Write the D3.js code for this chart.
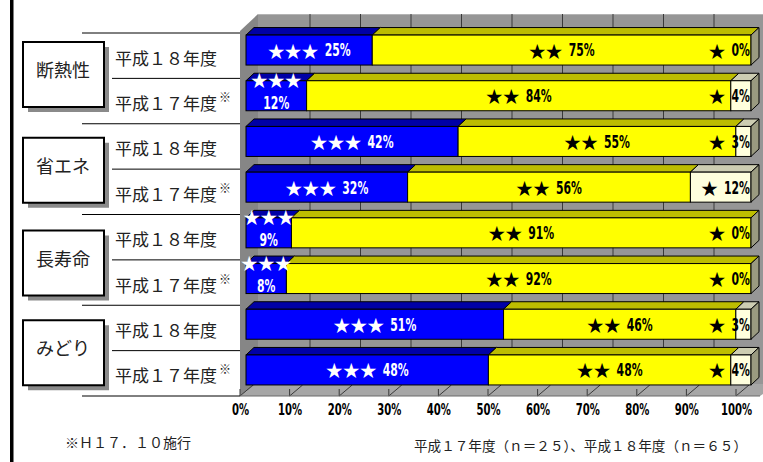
<!DOCTYPE html>
<html><head><meta charset="utf-8">
<script src="https://cdn.jsdelivr.net/npm/d3@7"></script>
<style>html,body{margin:0;padding:0;background:#fff;}svg{display:block;}</style>
</head><body>
<script>
// ---- data ----
const categories = ["断熱性", "省エネ", "長寿命", "みどり"];
const years = ["平成１８年度", "平成１７年度"];
const yearNote = [false, true];          // ※ on 平成１７年度
const rows = d3.range(8);                // category x year
const threeStar = [25, 12, 42, 32, 9, 8, 51, 48];
const twoStar   = [75, 84, 55, 56, 91, 92, 46, 48];
const oneStar   = [0, 4, 3, 12, 0, 0, 3, 4];
const tickValues = [0, 10, 20, 30, 40, 50, 60, 70, 80, 90, 100];
const footnote = "※Ｈ１７．１０施行";
const sampleNote = "平成１７年度（ｎ＝２５）、平成１８年度（ｎ＝６５）";

// ---- layout ----
const W = 763, H = 462;
const svg = d3.select("body").append("svg").attr("width", W).attr("height", H);
const xBar = d3.scaleLinear().domain([0, 100]).range([246, 751]);
const xBack = d3.scaleLinear().domain([0, 100]).range([259.5, 764.5]);
const xFloor = d3.scaleLinear().domain([0, 100]).range([240, 736]);
const yBand = d3.scaleBand().domain(rows).range([27.2, 392.8]).paddingInner(0.3435).paddingOuter(0.17175);
const yLine = d3.scaleLinear().domain([0, 8]).range([33, 396]);
const DX = 8, DY = 7.5;
const pctFont = "'Liberation Sans Narrow','Arial Narrow','DejaVu Sans Condensed',sans-serif";
const jpFont = "'Noto Sans CJK JP','Noto Sans CJK SC',sans-serif";
const PCT_SX = 0.67;

// left thick rule
svg.append("rect").attr("x", 10).attr("y", 0).attr("width", 3.5).attr("height", H).attr("fill", "#000");

// ---- 3D walls ----
const poly = pts => pts.map(p => p.join(",")).join(" ");
svg.append("rect").attr("x", 258).attr("y", 14).attr("width", 520).attr("height", 370).attr("fill", "#969696");
svg.append("line").attr("x1", 258).attr("x2", W).attr("y1", 14.5).attr("y2", 14.5).attr("stroke", "#b4b4b4");
svg.append("polygon").attr("points", poly([[240, 31], [258, 14], [258, 384], [240, 396]]))
  .attr("fill", "#868686");
svg.append("polygon").attr("points", poly([[240, 396], [256, 384], [778, 384], [760, 396]]))
  .attr("fill", "#a6a6a6");
// back gridlines
svg.append("g").selectAll("line").data(tickValues.filter(v => v > 0)).join("line")
  .attr("x1", d => xBack(d)).attr("x2", d => xBack(d)).attr("y1", 14).attr("y2", 384)
  .attr("stroke", "#3a3a3a").attr("stroke-width", 1);
// floor ticks
const ft = svg.append("g").attr("stroke", "#3a3a3a").attr("fill", "none");
ft.selectAll("path").data(tickValues).join("path")
  .attr("d", d => `M${xFloor(d)},389V396L${xFloor(d) + 13},385`);
svg.append("line").attr("x1", 240).attr("x2", 760).attr("y1", 396).attr("y2", 396).attr("stroke", "#6a6a6a");

// ---- bars ----
const segStyles = [
  { front: "#0000FF", top: "#0000A6" },
  { front: "#FFFF00", top: "#BDBD00" },
  { front: "#FFFFDD", top: "#CDCDB2" }
];
const gBars = svg.append("g");
rows.forEach(i => {
  const vals = [threeStar[i], twoStar[i], oneStar[i]];
  let acc = 0;
  const y0 = yBand(i), h = yBand.bandwidth();
  const g = gBars.append("g");
  vals.forEach((v, k) => {
    const a = acc, b = acc + v; acc = b;
    if (v <= 0) return;
    const x0 = xBar(a), x1 = xBar(b);
    g.append("polygon").attr("points", poly([[x0, y0], [x0 + DX, y0 - DY], [x1 + DX, y0 - DY], [x1, y0]]))
      .attr("fill", segStyles[k].top).attr("stroke", "#000").attr("stroke-width", 1).attr("stroke-linejoin", "round");
    g.append("rect").attr("x", x0).attr("y", y0).attr("width", x1 - x0).attr("height", h)
      .attr("fill", segStyles[k].front).attr("stroke", "#000").attr("stroke-width", 1);
  });
  const xe = xBar(100);
  g.append("polygon").attr("points", poly([[xe, y0], [xe + DX, y0 - DY], [xe + DX, y0 + h - DY], [xe, y0 + h]]))
    .attr("fill", "#9a9a80").attr("stroke", "#000").attr("stroke-width", 1);
});

// ---- bar labels ----
const gLab = svg.append("g");
function label(x, y, stars, pct, color, anchor) {
  const g = gLab.append("g");
  let w = 0, sw = 0, pw = 0;
  let st, pt;
  if (stars) {
    st = g.append("text").attr("dominant-baseline", "central").attr("font-family", jpFont)
      .attr("font-size", 17).attr("fill", color).text(stars);
    sw = st.node().getComputedTextLength();
  }
  if (pct) {
    pt = g.append("text").attr("dominant-baseline", "central").attr("font-family", pctFont)
      .attr("font-weight", "bold").attr("font-size", 18).attr("fill", color).text(pct);
    pw = pt.node().getComputedTextLength() * PCT_SX;
  }
  const gap = (stars && pct) ? 6 : 0;
  w = sw + gap + pw;
  const left = anchor === "end" ? x - w : x - w / 2;
  if (st) st.attr("x", left).attr("y", y);
  if (pt) pt.attr("transform", `translate(${left + sw + gap},${y + 0.5}) scale(${PCT_SX},1)`);
}
rows.forEach(i => {
  const y0 = yBand(i), h = yBand.bandwidth(), mid = y0 + h / 2;
  const a = threeStar[i], b = twoStar[i], c = oneStar[i];
  const cx1 = (xBar(0) + xBar(a)) / 2;
  if (a >= 15) label(cx1, mid, "★★★", a + "%", "#fff");
  else { label(cx1, y0 - 1, "★★★", null, "#fff"); label(cx1, mid + 7, null, a + "%", "#fff"); }
  label((xBar(a) + xBar(a + b)) / 2, mid, "★★", b + "%", "#000");
  label(xBar(100) - 1, mid, "★", c + "%", "#000", "end");
});

// ---- left labels ----
const gl = svg.append("g").attr("stroke", "#000").attr("stroke-width", 1);
d3.range(9).forEach(i => {
  gl.append("line").attr("x1", i % 2 === 0 ? 82 : 112).attr("x2", 240)
    .attr("y1", yLine(i)).attr("y2", yLine(i));
});
rows.forEach(i => {
  const cy = (yLine(i) + yLine(i + 1)) / 2 + 1.5;
  svg.append("text").attr("x", 115).attr("y", cy).attr("dominant-baseline", "central")
    .attr("font-family", jpFont).attr("font-size", 17).attr("fill", "#222").text(years[i % 2]);
  if (yearNote[i % 2]) svg.append("text").attr("x", 219).attr("y", cy - 6).attr("dominant-baseline", "central")
    .attr("font-family", jpFont).attr("font-size", 12).attr("fill", "#222").text("※");
});
const boxInset = [9, 14, 16, 15];
categories.forEach((c, k) => {
  const top = yLine(2 * k) + boxInset[k];
  svg.append("rect").attr("x", 28).attr("y", top + 5).attr("width", 81).attr("height", 65).attr("fill", "#8a8a8a");
  svg.append("rect").attr("x", 23).attr("y", top).attr("width", 81).attr("height", 65)
    .attr("fill", "#fff").attr("stroke", "#000").attr("stroke-width", 2);
  svg.append("text").attr("x", 63).attr("y", top + 27).attr("text-anchor", "middle").attr("dominant-baseline", "central")
    .attr("font-family", jpFont).attr("font-size", 18).attr("fill", "#222").text(c);
});

// ---- axis ----
const ax = svg.append("g").attr("transform", "translate(0,409)")
  .call(d3.axisBottom(xFloor).tickValues(tickValues).tickFormat(d => d + "%").tickSize(0).tickPadding(0));
ax.select(".domain").remove();
ax.selectAll("text").attr("y", 0).attr("dy", null).attr("dominant-baseline", "central")
  .attr("transform", "scale(0.7,1)").attr("font-family", pctFont).attr("font-weight", "bold")
  .attr("font-size", 16).attr("fill", "#000");

// ---- notes ----
svg.append("text").attr("x", 65).attr("y", 442).attr("dominant-baseline", "central")
  .attr("font-family", jpFont).attr("font-size", 14).attr("fill", "#222").text(footnote);
svg.append("text").attr("x", 747).attr("y", 445).attr("text-anchor", "end").attr("dominant-baseline", "central")
  .attr("font-family", jpFont).attr("font-size", 13.6).attr("fill", "#222").text(sampleNote);
</script>
</body></html>
